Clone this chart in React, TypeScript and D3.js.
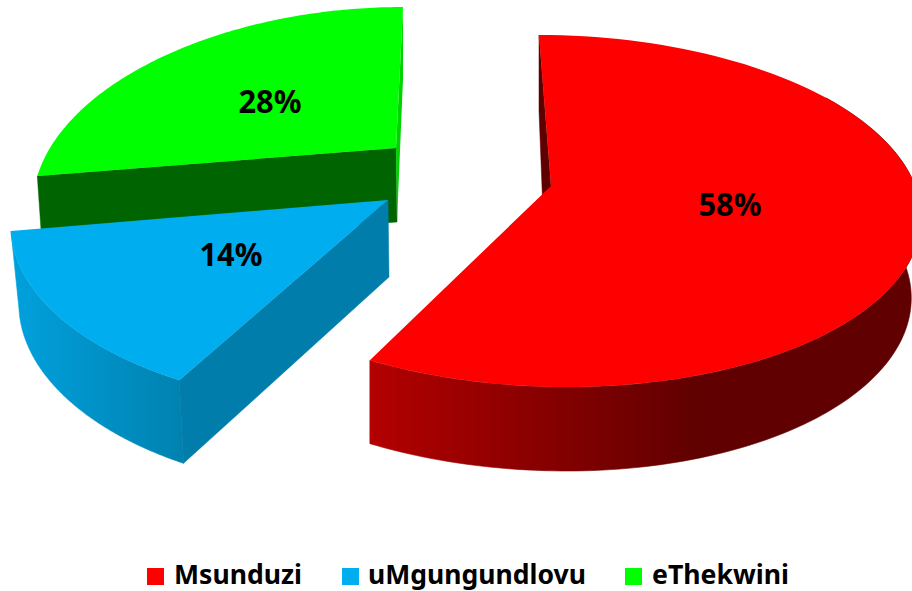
import React from "react";
import * as d3 from "d3";

const categories = ["Msunduzi", "uMgungundlovu", "eThekwini"];
const shares = [58, 14, 28];
const labels = ["58%", "14%", "28%"];
const topColors = ["#ff0000", "#00aeef", "#00ff00"];

const W = 912, H = 591;

// Perspective fit of each exploded slice: ellipse on screen, parameter range, extrusion
const views = [
  { cx: 553, cy: 211, rx: 368, ry: 176, sx: 14, t: [0, 212], apex: [551, 186], apexD: [-6, 77], dyMid: 80, dyAmp: 4, dxA: 0, dxR: 10,
    rim: [50, 212], rimStops: [["0%", "#b30000"], ["100%", "#600000"]], rimX: [370, 700],
    startWall: "#5f0000", endWall: null, label: [730, 204] },
  { cx: 351, cy: 231, rx: 340, ry: 176, sx: 10, t: [212, 270], apex: [388, 200], apexD: [1, 77], dyMid: 78, dyAmp: 6, dxA: 8, dxR: 0,
    rim: [212, 270], rimStops: [["0%", "#00a0dc"], ["100%", "#0082b0"]], rimX: [15, 183],
    startWall: "#007dab", endWall: null, label: [231, 254] },
  { cx: 373, cy: 190, rx: 339, ry: 183, sx: -30, t: [274.4, 360], apex: [396, 148], apexD: [1, 74], dyMid: 72, dyAmp: 0, dxA: 5, dxR: 0,
    rim: null, rimStops: [], rimX: [0, 1],
    startWall: "#006400", endWall: "#00d400", label: [270, 101] },
];

const legendSwatch = [147, 342, 625];
const legendText = [174, 368, 652];
const legendWidth = [128, 218, 137];

const rad = Math.PI / 180;
const line = d3.line();

export default function App() {
  const arcs = d3.pie<number>().sort(null)(shares);
  const slices = arcs.map((a, i) => {
    const v = views[i];
    const tOf = d3.scaleLinear().domain([a.startAngle, a.endAngle]).range(v.t);
    const top = (t: number): [number, number] => [
      v.cx + v.rx * Math.sin(t * rad) - v.sx * Math.cos(t * rad),
      v.cy - v.ry * Math.cos(t * rad),
    ];
    const base = (t: number): [number, number] => {
      const p = top(t);
      const s = Math.sin(t * rad);
      return [p[0] - (s > 0 ? v.dxR : v.dxA) * s, p[1] + v.dyMid - v.dyAmp * Math.cos(t * rad)];
    };
    const sweep = (t0: number, t1: number, f: (t: number) => [number, number]) =>
      d3.range(0, 121).map((k) => f(t0 + ((t1 - t0) * k) / 120));
    const t0 = tOf(a.startAngle), t1 = tOf(a.endAngle);
    const apexB: [number, number] = [v.apex[0] + v.apexD[0], v.apex[1] + v.apexD[1]];
    const apex = v.apex as [number, number];
    return {
      i, v,
      face: line([apex, ...sweep(t0, t1, top)]) + "Z",
      rim: v.rim ? line([...sweep(v.rim[0], v.rim[1], top), ...sweep(v.rim[1], v.rim[0], base)]) + "Z" : null,
      wallEnd: line([top(t1), base(t1), apexB, apex]) + "Z",
      wallStart: line([top(t0), base(t0), apexB, apex]) + "Z",
    };
  });

  // painted back to front
  const order = [2, 1, 0];

  return (
    <svg width={W} height={H} viewBox={`0 0 ${W} ${H}`}
      style={{ position: "absolute", left: 0, top: 0, background: "#fff", fontFamily: "'Noto Sans', sans-serif" }}>
      <defs>
        {views.map((v, i) => (
          <linearGradient key={i} id={`rim${i}`} gradientUnits="userSpaceOnUse" x1={v.rimX[0]} x2={v.rimX[1]} y1={0} y2={0}>
            {v.rimStops.map((s) => <stop key={s[0]} offset={s[0]} stopColor={s[1]} />)}
          </linearGradient>
        ))}
      </defs>
      {order.map((i) => {
        const s = slices[i];
        return (
          <g key={i}>
            {s.rim && <path d={s.rim} fill={`url(#rim${i})`} stroke={`url(#rim${i})`} strokeWidth={0.6} />}
            <path d={s.wallStart} fill={s.v.startWall} stroke={s.v.startWall} strokeWidth={0.5} />
            {s.v.endWall && <path d={s.wallEnd} fill={s.v.endWall} />}
            <path d={s.face} fill={topColors[i]} />
          </g>
        );
      })}
      {slices.map((s) => (
        <text key={s.i} x={s.v.label[0]} y={s.v.label[1] + 11.5} textAnchor="middle" fontSize={32} fontWeight={700}
          fill="#000" textLength={63} lengthAdjust="spacingAndGlyphs">{labels[s.i]}</text>
      ))}
      {categories.map((c, i) => (
        <g key={c}>
          <rect x={legendSwatch[i]} y={568} width={17} height={17} fill={topColors[i]} />
          <text x={legendText[i]} y={584} fontSize={26} fontWeight={700} fill="#000"
            textLength={legendWidth[i]} lengthAdjust="spacingAndGlyphs">{c}</text>
        </g>
      ))}
    </svg>
  );
}
